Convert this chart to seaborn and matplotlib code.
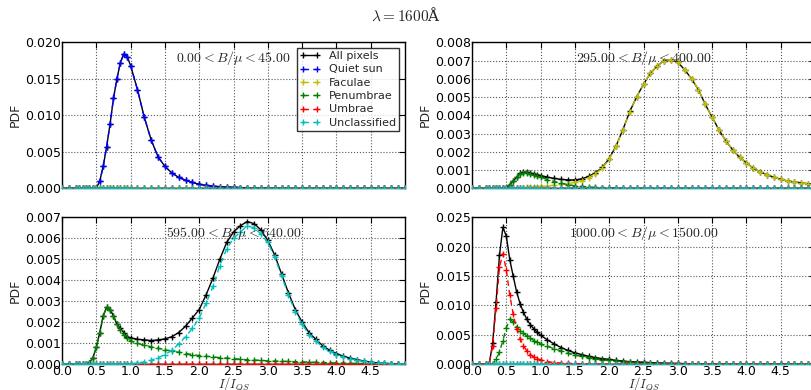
import numpy as np
import pandas as pd
import matplotlib
matplotlib.use("Agg")
import matplotlib.pyplot as plt
from matplotlib.ticker import FormatStrFormatter, MultipleLocator
from matplotlib.lines import Line2D
import seaborn as sns

# ---------------- data ----------------
X = [0.0, 0.1, 0.2, 0.25, 0.3, 0.35, 0.4, 0.45, 0.5, 0.55, 0.6, 0.65, 0.7, 0.75,
     0.8, 0.85, 0.9, 0.95, 1.0, 1.1, 1.2, 1.3, 1.4, 1.5, 1.6, 1.7, 1.8, 1.9, 2.0,
     2.1, 2.2, 2.3, 2.4, 2.5, 2.6, 2.7, 2.8, 2.9, 3.0, 3.1, 3.2, 3.3, 3.4, 3.5,
     3.6, 3.7, 3.8, 3.9, 4.0, 4.1, 4.2, 4.3, 4.4, 4.5, 4.6, 4.7, 4.8, 4.9, 5.0]

LABELS = ["All pixels", "Quiet sun", "Faculae", "Penumbrae", "Umbrae", "Unclassified"]
COLORS = ["k", "b", (0.75, 0.75, 0.0), (0.0, 0.5, 0.0), "r", (0.0, 0.75, 0.75)]
RANGES = [r"$0.00 < B/\mu < 45.00$", r"$295.00 < B/\mu < 400.00$",
          r"$595.00 < B/\mu < 640.00$", r"$1000.00 < B/\mu < 1500.00$"]
YMAX = [0.020, 0.008, 0.007, 0.025]
YSTEP = [0.005, 0.001, 0.001, 0.005]

ZERO = [0.0] * len(X)

# Panel 1: 0 < B/mu < 45
P1_QUIET = [0, 0, 0, 0, 0, 0, 0, 0, 0, 0.0010, 0.0030, 0.0057, 0.0088, 0.0123, 0.0150,
            0.0172, 0.0184, 0.0180, 0.0168,
            0.0135, 0.0097, 0.0066, 0.0043, 0.0030, 0.0021, 0.0015, 0.0011, 0.0008,
            0.00055, 0.0004, 0.0003, 0.00022, 0.00017, 0.00013, 0.0001, 0.00007,
            0.00005, 0.00003, 0.00002, 0.00001,
            0, 0, 0, 0, 0, 0, 0, 0, 0, 0, 0, 0, 0, 0, 0, 0, 0, 0, 0]
P1_ALL = P1_QUIET

# Panel 2: 295 < B/mu < 400
P2_FAC = [0, 0, 0, 0, 0, 0, 0, 0, 0, 0, 0,
          0.00001, 0.00002, 0.00003, 0.00005, 0.00006, 0.00008, 0.00009, 0.0001,
          0.00013, 0.00017, 0.00021, 0.00026, 0.00032, 0.00042, 0.00058, 0.0008,
          0.0011, 0.0016, 0.0023, 0.0032, 0.0042, 0.0050, 0.0057, 0.0063, 0.0067,
          0.0070, 0.00705, 0.0069, 0.0065, 0.0060, 0.0054, 0.0046, 0.0039, 0.0032,
          0.0026, 0.0021, 0.0017, 0.0014, 0.0011, 0.0009, 0.00075, 0.0006, 0.0005,
          0.0004, 0.00035, 0.0003, 0.00025, 0.0002]
P2_PEN = [0, 0, 0, 0, 0, 0, 0, 0,
          0.00002, 0.0002, 0.0004, 0.0006, 0.0008, 0.00085, 0.00083, 0.00078,
          0.00072, 0.00066, 0.0006,
          0.00048, 0.00037, 0.00028, 0.0002, 0.00014, 0.0001, 0.00007, 0.00005,
          0.00004, 0.00003, 0.00002, 0.00002, 0.00001, 0.00001,
          0, 0, 0, 0, 0, 0, 0, 0, 0, 0, 0, 0, 0, 0, 0, 0, 0, 0, 0, 0, 0, 0, 0, 0, 0, 0]
P2_ALL = [0, 0, 0, 0, 0, 0, 0, 0,
          0.00002, 0.0002, 0.0004, 0.0006, 0.00082, 0.00088, 0.00088, 0.00084,
          0.0008, 0.00075, 0.0007,
          0.00061, 0.00054, 0.00049, 0.00046, 0.00046, 0.00052, 0.00065, 0.00085,
          0.00114, 0.00163, 0.00232, 0.00322, 0.00421, 0.00501,
          0.0057, 0.0063, 0.0067, 0.0070, 0.00705, 0.0069, 0.0065, 0.0060, 0.0054,
          0.0046, 0.0039, 0.0032, 0.0026, 0.0021, 0.0017, 0.0014, 0.0011, 0.0009,
          0.00075, 0.0006, 0.0005, 0.0004, 0.00035, 0.0003, 0.00025, 0.0002]

# Panel 3: 595 < B/mu < 640
P3_PEN = [0, 0, 0, 0, 0, 0,
          0.00005, 0.0003, 0.0008, 0.0015, 0.0023, 0.0027, 0.0026, 0.0023, 0.0019,
          0.0016, 0.0014, 0.00125, 0.0011,
          0.00098, 0.0009, 0.00082, 0.00075, 0.00068, 0.00062, 0.00056, 0.0005,
          0.00045, 0.0004, 0.00037, 0.00034, 0.0003, 0.00028, 0.00025, 0.00023,
          0.0002, 0.00019, 0.00017, 0.00015, 0.00014, 0.00013, 0.00012, 0.00011,
          0.0001, 0.00009, 0.00008, 0.00007, 0.00006, 0.00005, 0.00004, 0.00003,
          0.00003, 0.00002, 0.00001,
          0, 0, 0, 0, 0]
P3_UNC = [0, 0, 0, 0, 0, 0, 0, 0, 0, 0, 0, 0, 0, 0, 0, 0, 0, 0,
          0.00002,
          0.00005, 0.0001, 0.00018, 0.0003, 0.00045, 0.00065, 0.00095, 0.0013,
          0.0017, 0.0022, 0.0029, 0.0037, 0.0047, 0.0055, 0.0060, 0.0063, 0.0066,
          0.0065, 0.0062, 0.0058, 0.0051, 0.0042, 0.0033, 0.0025, 0.0019, 0.0014,
          0.0011, 0.0008, 0.0006, 0.00045, 0.00033, 0.00025, 0.00018, 0.00012,
          0.00008, 0.00005, 0.00003, 0.00002, 0.00001, 0]
P3_ALL = [0, 0, 0, 0, 0, 0,
          0.00005, 0.0003, 0.0008, 0.0015, 0.0023, 0.0027, 0.0026, 0.0023, 0.0019,
          0.0017, 0.0015, 0.0013, 0.00125,
          0.00118, 0.00115, 0.00112, 0.00115, 0.0012, 0.0013, 0.0015, 0.0018,
          0.0022, 0.0026, 0.0033, 0.0041, 0.0050, 0.0058, 0.0063, 0.0066, 0.0068,
          0.0067, 0.0064, 0.0059, 0.0052, 0.0043, 0.0034, 0.0026, 0.0020, 0.0015,
          0.00118, 0.00087, 0.00066, 0.0005, 0.00037, 0.00028, 0.00021, 0.00014,
          0.00009, 0.00005, 0.00003, 0.00002, 0.00001, 0]

# Panel 4: 1000 < B/mu < 1500
P4_ALL = [0, 0, 0, 0,
          0.0035, 0.0105, 0.0185, 0.0233, 0.0218, 0.0178, 0.0150, 0.0123, 0.0103,
          0.0088, 0.0076, 0.0067, 0.0060, 0.0054, 0.0049,
          0.0041, 0.0034, 0.0028, 0.0023, 0.0019, 0.0016, 0.0013, 0.0011, 0.0009,
          0.0008, 0.0006, 0.0005, 0.0004, 0.00035, 0.0003, 0.00024, 0.0002,
          0.00015, 0.00012, 0.0001, 0.00007, 0.00005, 0.00003, 0.00002, 0.00001,
          0, 0, 0, 0, 0, 0, 0, 0, 0, 0, 0, 0, 0, 0, 0]
P4_UMB = [0, 0, 0, 0,
          0.0030, 0.0095, 0.0165, 0.0188, 0.0160, 0.0118, 0.0085, 0.0060, 0.0043,
          0.0031, 0.0022, 0.0016, 0.0012, 0.0009, 0.0007,
          0.0004, 0.00025, 0.00015, 0.0001, 0.00007, 0.00005, 0.00003, 0.00002,
          0.00001,
          0, 0, 0, 0, 0, 0, 0, 0, 0, 0, 0, 0, 0, 0, 0, 0, 0, 0, 0, 0, 0, 0, 0, 0,
          0, 0, 0, 0, 0, 0, 0]
P4_PEN = [0, 0, 0, 0, 0,
          0.0008, 0.0020, 0.0040, 0.0062, 0.0076, 0.0072, 0.0063, 0.0057, 0.0052,
          0.0048, 0.0044, 0.0040, 0.0037, 0.0034,
          0.0030, 0.0026, 0.0022, 0.0018, 0.0015, 0.0013, 0.0011, 0.0009, 0.0007,
          0.0006, 0.0005, 0.0004, 0.0003, 0.00025, 0.0002, 0.00015, 0.0001,
          0.00007, 0.00005, 0.00003, 0.00002, 0.00001,
          0, 0, 0, 0, 0, 0, 0, 0, 0, 0, 0, 0, 0, 0, 0, 0, 0, 0]

PANELS = [
    [P1_ALL, P1_QUIET, ZERO, ZERO, ZERO, ZERO],
    [P2_ALL, ZERO, P2_FAC, P2_PEN, ZERO, ZERO],
    [P3_ALL, ZERO, ZERO, P3_PEN, ZERO, P3_UNC],
    [P4_ALL, ZERO, ZERO, P4_PEN, P4_UMB, ZERO],
]

# ---------------- styling ----------------
sns.set_style("white")
plt.rcParams["font.family"] = ["DejaVu Sans"]
plt.rcParams["mathtext.fontset"] = "cm"

fig = plt.figure(figsize=(8.12, 3.90), dpi=100)
positions = [
    [0.0764, 0.5172, 0.4224, 0.3744],
    [0.5813, 0.5172, 0.4224, 0.3744],
    [0.0764, 0.0667, 0.4224, 0.3760],
    [0.5813, 0.0667, 0.4224, 0.3760],
]

dash = (0, (4, 3))
for i, (pos, series) in enumerate(zip(positions, PANELS)):
    ax = fig.add_axes(pos)
    for j, (lab, col, vals) in enumerate(zip(LABELS, COLORS, series)):
        df = pd.DataFrame({"x": X, "y": vals})
        sns.lineplot(data=df, x="x", y="y", ax=ax, color=col, marker="+",
                     markersize=5, markeredgewidth=1.0, markeredgecolor=col,
                     markerfacecolor=col, linewidth=1.0,
                     linestyle="-" if j == 0 else dash,
                     estimator=None, sort=False, zorder=2 + j)
    ax.set_xlim(0, 5)
    ax.set_ylim(0, YMAX[i])
    ax.set_xticks(np.arange(0, 5.0, 0.5))
    ax.yaxis.set_major_locator(MultipleLocator(YSTEP[i]))
    ax.yaxis.set_major_formatter(FormatStrFormatter("%.3f"))
    ax.xaxis.set_major_formatter(FormatStrFormatter("%.1f"))
    ax.grid(True, linestyle=":", color="0.35", linewidth=0.8)
    ax.tick_params(direction="in", top=True, right=True, length=4,
                   labelsize=9, colors="k", pad=1)
    for s in ax.spines.values():
        s.set_color("k")
        s.set_linewidth(1.0)
    ax.set_ylabel("PDF", fontsize=9, labelpad=2)
    if i >= 2:
        ax.set_xlabel(r"$I/I_{QS}$", fontsize=9, labelpad=-2)
    else:
        ax.set_xlabel("")
        ax.tick_params(labelbottom=False)
    ax.text(0.5, 0.895, RANGES[i], transform=ax.transAxes, ha="center",
            va="center", fontsize=10, zorder=20)
    if i == 0:
        handles = [Line2D([], [], color=c, marker="+", markersize=4,
                          linestyle="-" if k == 0 else dash, linewidth=1.0)
                   for k, c in enumerate(COLORS)]
        leg = ax.legend(handles, LABELS, loc="upper right", fontsize=8,
                        frameon=True, fancybox=False, numpoints=2,
                        handlelength=1.8, borderaxespad=0.5,
                        labelspacing=0.3, borderpad=0.3)
        leg.get_frame().set_edgecolor("k")
        leg.get_frame().set_linewidth(1.0)
        leg.set_zorder(30)
    else:
        if ax.get_legend() is not None:
            ax.get_legend().remove()

fig.text(0.5, 0.962, r"$\lambda = 1600$Å", ha="center", va="center",
         fontsize=11, family=["DejaVu Serif"])

fig.savefig("out.png", dpi=100, facecolor="white")
